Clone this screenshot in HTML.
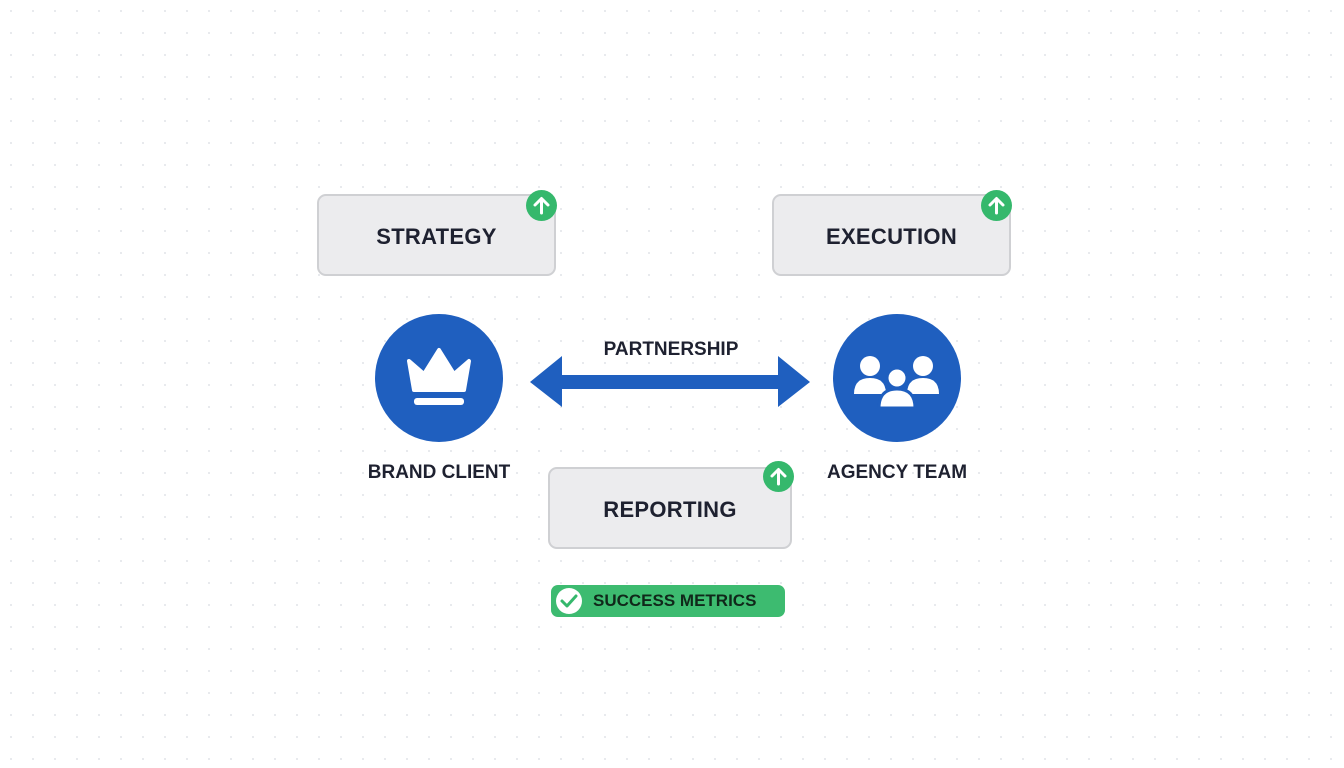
<!DOCTYPE html>
<html><head><style>
body{margin:0;width:1344px;height:768px;background:#fff;background-image:radial-gradient(#e6e8ec 1px,transparent 1.2px);background-size:22px 22px;font-family:"Liberation Sans",sans-serif;position:relative;overflow:hidden}
.box{position:absolute;background:#ececee;border:2px solid #cfd0d3;border-radius:9px;box-sizing:border-box;display:flex;align-items:center;justify-content:center;font-weight:bold;font-size:22px;color:#1e2130;letter-spacing:.3px;padding-top:3px}
.badge{position:absolute;width:31px;height:31px;border-radius:50%;background:#35b86c;display:flex;align-items:center;justify-content:center}
.lbl{position:absolute;font-weight:bold;font-size:19px;color:#1e2130;text-align:center;width:240px}
</style></head><body>
<div class="box" style="left:317px;top:194px;width:239px;height:82px">STRATEGY</div>
<div class="box" style="left:772px;top:194px;width:239px;height:82px">EXECUTION</div>
<div class="box" style="left:548px;top:467px;width:244px;height:82px">REPORTING</div>
<svg width="0" height="0" style="position:absolute"><defs><g id="up"><path d="M15.5 23V9M9 15l6.5-6.5L22 15" stroke="#fff" stroke-width="3" fill="none" stroke-linecap="round" stroke-linejoin="round"/></g></defs></svg>
<div class="badge" style="left:526px;top:190px"><svg width="31" height="31"><use href="#up"/></svg></div>
<div class="badge" style="left:981px;top:190px"><svg width="31" height="31"><use href="#up"/></svg></div>
<div class="badge" style="left:763px;top:461px"><svg width="31" height="31"><use href="#up"/></svg></div>
<svg style="position:absolute;left:0;top:0" width="1344" height="768">
<circle cx="439" cy="378" r="64" fill="#1f5fbf"/>
<path d="M409 361 L424 374 L439 350 L454 374 L469 361 L464 390 L414 390 Z" fill="#fff" stroke="#fff" stroke-width="4" stroke-linejoin="round"/>
<rect x="414" y="398" width="50" height="7" rx="3" fill="#fff"/>
<circle cx="897" cy="378" r="64" fill="#1f5fbf"/>
<g fill="#fff">
<circle cx="870" cy="366" r="10"/><path d="M854 394 q0-16 16-16 q16 0 16 16z"/>
<circle cx="923" cy="366" r="10"/><path d="M907 394 q0-16 16-16 q16 0 16 16z"/>
</g>
<g fill="#fff" stroke="#1f5fbf" stroke-width="3">
<circle cx="897" cy="378" r="10"/><path d="M879 408 q0-19 18-19 q18 0 18 19z"/>
</g>
<path d="M530 382 L562 356 L562 375 L778 375 L778 356 L810 382 L778 407 L778 389 L562 389 L562 407 Z" fill="#1f5fbf"/>
</svg>
<div class="lbl" style="left:551px;top:339px">PARTNERSHIP</div>
<div class="lbl" style="left:319px;top:462px">BRAND CLIENT</div>
<div class="lbl" style="left:777px;top:462px">AGENCY TEAM</div>
<div style="position:absolute;left:551px;top:585px;width:234px;height:32px;border-radius:7px;background:#3dbb70;box-sizing:border-box;display:flex;align-items:center;font-weight:bold;font-size:17px;color:#10281a">
<svg width="34" height="32" style="margin-left:2px"><circle cx="16" cy="16" r="13" fill="#fff"/><path d="M9 16l5 5 9-10" stroke="#35b86c" stroke-width="3" fill="none" stroke-linecap="round" stroke-linejoin="round"/></svg>
<span style="margin-left:6px">SUCCESS METRICS</span></div>
</body></html>
